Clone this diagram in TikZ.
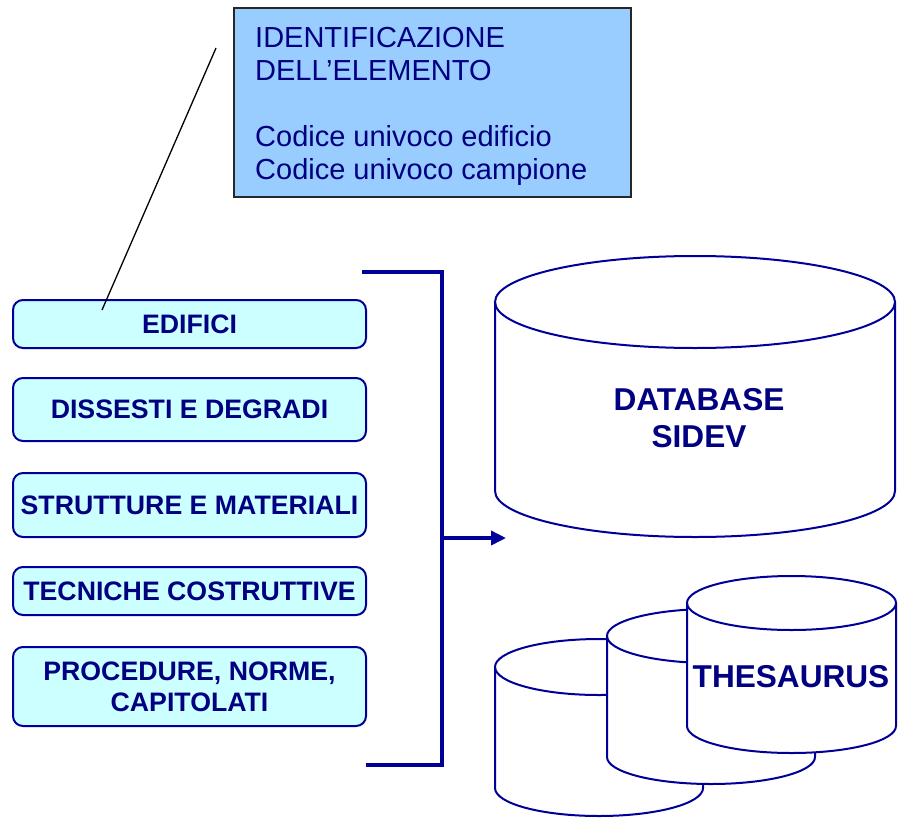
\documentclass[tikz,border=0pt]{standalone}
\usepackage{fontspec}
\setmainfont{Liberation Sans}
\usetikzlibrary{arrows.meta}
\definecolor{navy}{HTML}{000080}
\definecolor{navyline}{HTML}{000099}
\definecolor{topfill}{HTML}{99CCFF}
\definecolor{boxfill}{HTML}{CCFFFF}
% #1 centre x, #2 top centre y, #3 bottom centre y, #4 x radius, #5 y radius
\newcommand\dbcyl[5]{%
  \fill[white] (#1-#4,#2) -- (#1-#4,#3) arc[start angle=180,end angle=0,x radius=#4,y radius=#5] -- (#1+#4,#2) arc[start angle=0,end angle=-180,x radius=#4,y radius=#5] -- cycle;
  \draw[cylline] (#1-#4,#2) -- (#1-#4,#3) arc[start angle=180,end angle=0,x radius=#4,y radius=#5] -- (#1+#4,#2);
  \draw[cylline] (#1,#2) ellipse[x radius=#4,y radius=#5];
}
\begin{document}
\begin{tikzpicture}[x=1pt,y=-1pt,
  catbox/.style={draw=navyline, line width=2pt, fill=boxfill, rounded corners=10pt,
    minimum width=353pt, inner sep=0pt, text=navy, align=center,
    font=\fontsize{26.7}{31}\selectfont\bfseries},
  cylline/.style={draw=navyline, line width=2pt},
  bracket/.style={draw=navyline, line width=3.5pt},
  dbtext/.style={text=navy, align=center, font=\fontsize{31.6}{37}\selectfont\bfseries}
]
\useasboundingbox (0,0) rectangle (901,819);
\fill[white] (0,0) rectangle (901,819);

% top identification box
\node[draw=black!85, line width=1.5pt, fill=topfill, minimum width=397pt, minimum height=189pt,
  inner sep=0pt] (idbox) at (432.5,102.5) {};
\node[anchor=base west, text=navy, align=left, inner sep=0pt,
  font=\fontsize{29}{33}\selectfont] (idtext) at (255,179)
  {IDENTIFICAZIONE\\DELL’ELEMENTO\\[33pt]Codice univoco edificio\\Codice univoco campione};

% category boxes
\node[catbox, minimum height=48pt] (edifici) at (189.5,324) {EDIFICI};
\node[catbox, minimum height=63pt] (dissesti) at (189.5,409.5) {DISSESTI E DEGRADI};
\node[catbox, minimum height=64pt] (strutture) at (189.5,505) {STRUTTURE E MATERIALI};
\node[catbox, minimum height=48pt] (tecniche) at (189.5,591) {TECNICHE COSTRUTTIVE};
\node[catbox, minimum height=79pt] (procedure) at (189.5,686.5) {PROCEDURE, NORME,\\CAPITOLATI};

% connector line
\coordinate (lineA) at (216,48);
\coordinate (lineB) at (102,310);
\draw[black, line width=1.3pt] (lineA) -- (lineB);

% bracket
\coordinate (brTop) at (362,272);
\coordinate (brCorner) at (442,272);
\coordinate (brBot) at (442,765);
\coordinate (brEnd) at (366,765);
\coordinate (brMid) at (442,538);
\coordinate (arrEnd) at (506,538);
\draw[bracket] (brTop) -- (brCorner) -- (brBot) -- (brEnd);
\draw[bracket, -{Triangle[length=15pt,width=14pt]}] (brMid) -- (arrEnd);

% big database cylinder
\dbcyl{695}{302}{491}{200}{46}
\node[dbtext] (database) at (699,418) {DATABASE\\SIDEV};

% thesaurus cylinders
\dbcyl{599}{667}{788}{104}{28}
\dbcyl{711}{636}{757}{104}{27}
\dbcyl{791.5}{603}{726}{104.5}{27}
\node[dbtext] (thesaurus) at (791,677) {THESAURUS};
\end{tikzpicture}
\end{document}
